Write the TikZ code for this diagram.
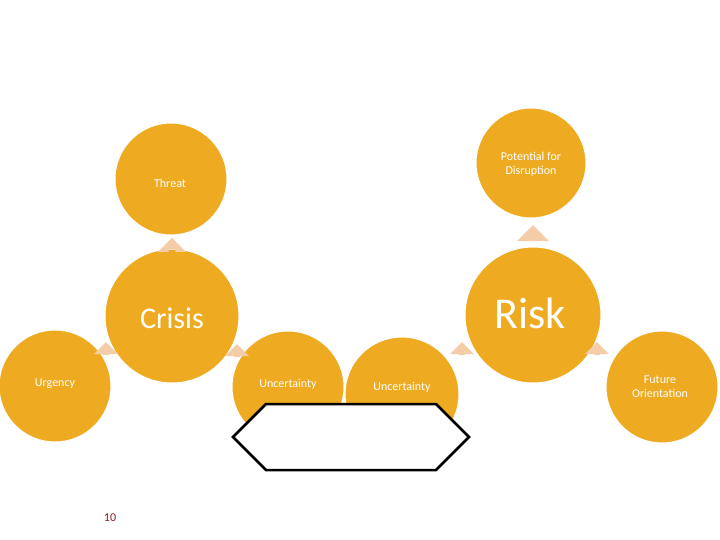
\documentclass[tikz,border=0pt]{standalone}
\usepackage{fontspec}
\setmainfont{Carlito}
\usetikzlibrary{shapes.arrows}
\definecolor{gold}{HTML}{EEAB22}
\definecolor{peach}{HTML}{F4CDA8}
\definecolor{pgnum}{HTML}{8B1A1A}
\begin{document}
\begin{tikzpicture}[x=1pt,y=-1pt,
  circ/.style={circle,fill=gold,draw=white,line width=1pt,minimum size=#1,inner sep=0pt,text=white,align=center},
  sarrow/.style={single arrow,fill=peach,draw=none,minimum height=13pt,minimum width=24pt,single arrow head extend=7pt,inner sep=2pt,shape border rotate=#1}]
\useasboundingbox (0,0) rectangle (720,540);
\node[circ=112pt] (thr) at (171,179) {};
\node[font=\fontsize{12}{14}\selectfont,text=white] (thrt) at (170,183) {Threat};
\node[circ=110pt] (pot) at (531,163) {};
\node[font=\fontsize{12}{14}\selectfont,text=white,align=center] (pott) at (531,164) {Potential for\\Disruption};
\node[circ=112pt] (urg) at (55,386) {};
\node[font=\fontsize{12}{14}\selectfont,text=white] (urgt) at (55,384) {Urgency};
\node[circ=112pt] (fut) at (662,387) {};
\node[font=\fontsize{12}{14}\selectfont,text=white,align=center] (futt) at (660,387) {Future\\Orientation};
\node[circ=134pt] (cri) at (172,316) {};
\node[font=\fontsize{30}{34}\selectfont,text=white] (crit) at (172,318) {Crisis};
\node[circ=136pt] (risk) at (533,315) {};
\node[font=\fontsize{44}{48}\selectfont,text=white] (riskt) at (530,313) {Risk};
\node[circ=112pt] (u1) at (288,387) {};
\node[font=\fontsize{12}{14}\selectfont,text=white] (u1t) at (288,384) {Uncertainty};
\node[circ=114pt] (u2) at (402,394) {};
\node[font=\fontsize{12}{14}\selectfont,text=white] (u2t) at (402,387) {Uncertainty};
\node[sarrow=90,minimum height=11pt,minimum width=28pt] (a1) at (172,245) {};
\node[sarrow=90,minimum height=16pt,minimum width=32pt] (a2) at (533,235) {};
\node[sarrow=120] (a3) at (106,350) {};
\node[sarrow=60] (a4) at (237,352) {};
\node[sarrow=60] (a5) at (462,350) {};
\node[sarrow=120] (a6) at (597,350) {};
\node[double arrow,draw=black,line width=2.5pt,fill=white,minimum height=236pt,minimum width=66pt,double arrow head extend=0pt,inner sep=0pt,double arrow head indent=0pt] (da) at (351,437) {};
\node[font=\fontsize{12}{14}\selectfont,text=pgnum] (pg) at (110,518) {10};
\end{tikzpicture}
\end{document}
